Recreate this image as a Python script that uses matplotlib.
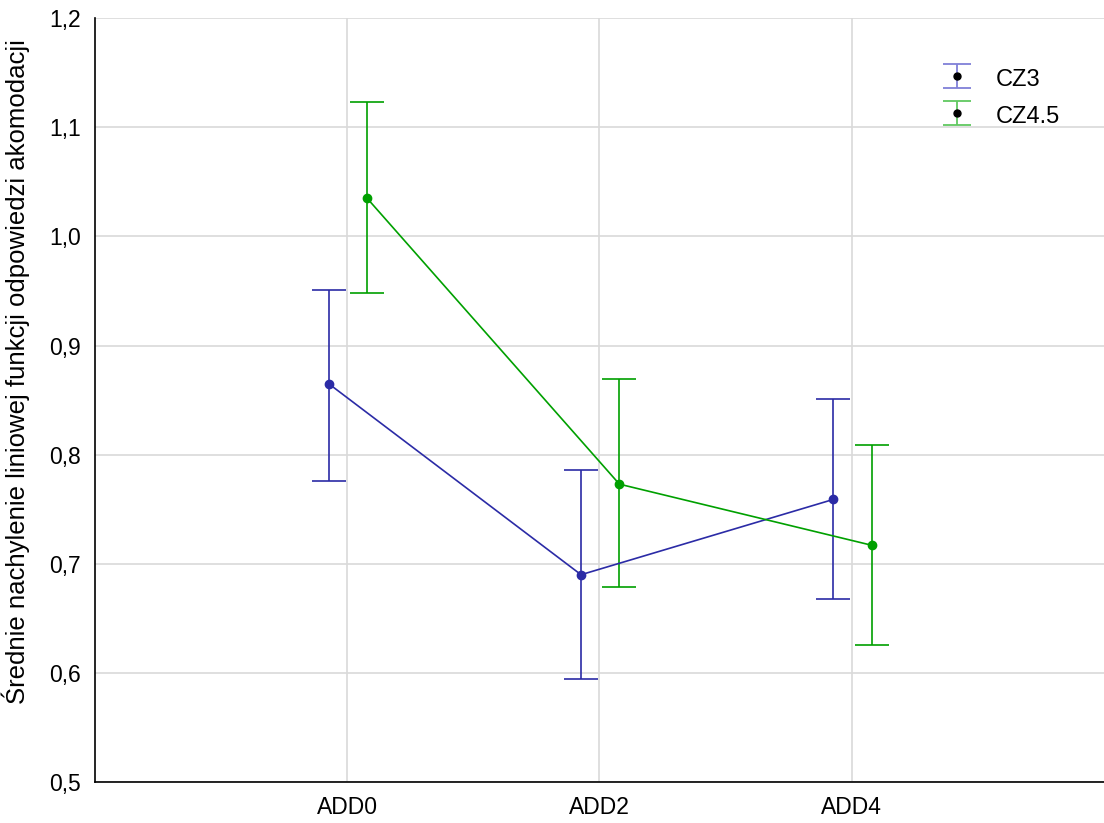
import matplotlib
matplotlib.use("Agg")
import numpy as np
import matplotlib.pyplot as plt
from matplotlib.font_manager import fontManager

categories = ["ADD0", "ADD2", "ADD4"]
series_names = ["CZ3", "CZ4.5"]
cz3_mean = [0.865, 0.690, 0.759]
cz3_low = [0.776, 0.594, 0.668]
cz3_high = [0.951, 0.786, 0.851]
cz45_mean = [1.035, 0.773, 0.717]
cz45_low = [0.948, 0.679, 0.626]
cz45_high = [1.123, 0.869, 0.809]
yticks = [0.5, 0.6, 0.7, 0.8, 0.9, 1.0, 1.1, 1.2]
ytick_labels = ["0,5", "0,6", "0,7", "0,8", "0,9", "1,0", "1,1", "1,2"]

names = {f.name for f in fontManager.ttflist}
main_font = "Liberation Sans" if "Liberation Sans" in names else "DejaVu Sans"
narrow_font = "Liberation Sans Narrow" if "Liberation Sans Narrow" in names else main_font
plt.rcParams["font.family"] = [main_font, "DejaVu Sans"]

blue = "#2b2ba6"
green = "#00a000"

fig = plt.figure(figsize=(11.04, 8.23), dpi=100)
ax = fig.add_axes([0.086, 0.0498, 0.914, 0.928])

x = list(range(len(categories)))
xb = [i - 0.073 for i in x]
xg = [i + 0.079 for i in x]

def draw(xs, mean, low, high, color):
    yerr = [[m - l for m, l in zip(mean, low)], [h - m for m, h in zip(mean, high)]]
    ax.errorbar(xs, mean, yerr=yerr, color=color, lw=1.2, marker="o", ms=6,
                capsize=12, capthick=1.2, elinewidth=1.2, zorder=3)

draw(xb, cz3_mean, cz3_low, cz3_high, blue)
draw(xg, cz45_mean, cz45_low, cz45_high, green)

# legend handles (errorbar style, light colours, black dot)
h1 = ax.errorbar([np.nan], [np.nan], yerr=[1], color="#8080d8", ls="none",
                 marker="o", mfc="black", mec="black", ms=5, capsize=10,
                 elinewidth=1.3, capthick=1.3)
h2 = ax.errorbar([np.nan], [np.nan], yerr=[1], color="#60c860", ls="none",
                 marker="o", mfc="black", mec="black", ms=5, capsize=10,
                 elinewidth=1.3, capthick=1.3)

ax.set_xlim(-1, 3)
ax.set_ylim(0.5, 1.2)
ax.set_xticks(x)
ax.set_xticklabels(categories, fontsize=16.5)
ax.set_yticks(yticks)
ax.set_yticklabels(ytick_labels, fontsize=16.5)
ax.tick_params(axis="y", length=0, pad=10)
ax.tick_params(axis="x", length=0, pad=10)
ax.grid(True, color="#d9d9d9", lw=1.2, zorder=0)
ax.set_axisbelow(True)
for s in ["top", "right"]:
    ax.spines[s].set_visible(False)
for s in ["left", "bottom"]:
    ax.spines[s].set_linewidth(1.2)

ax.set_ylabel("Średnie nachylenie liniowej funkcji odpowiedzi akomodacji",
              fontsize=18.5, family=[narrow_font, "DejaVu Sans"])
ax.yaxis.set_label_coords(-0.064, 0.538)

leg = ax.legend([h1, h2], series_names, loc="upper left",
                bbox_to_anchor=(0.818, 0.965), frameon=False, fontsize=17,
                handlelength=1.3, handletextpad=1.0, labelspacing=0.5,
                handleheight=1.2)

fig.savefig("out.png", dpi=100)
